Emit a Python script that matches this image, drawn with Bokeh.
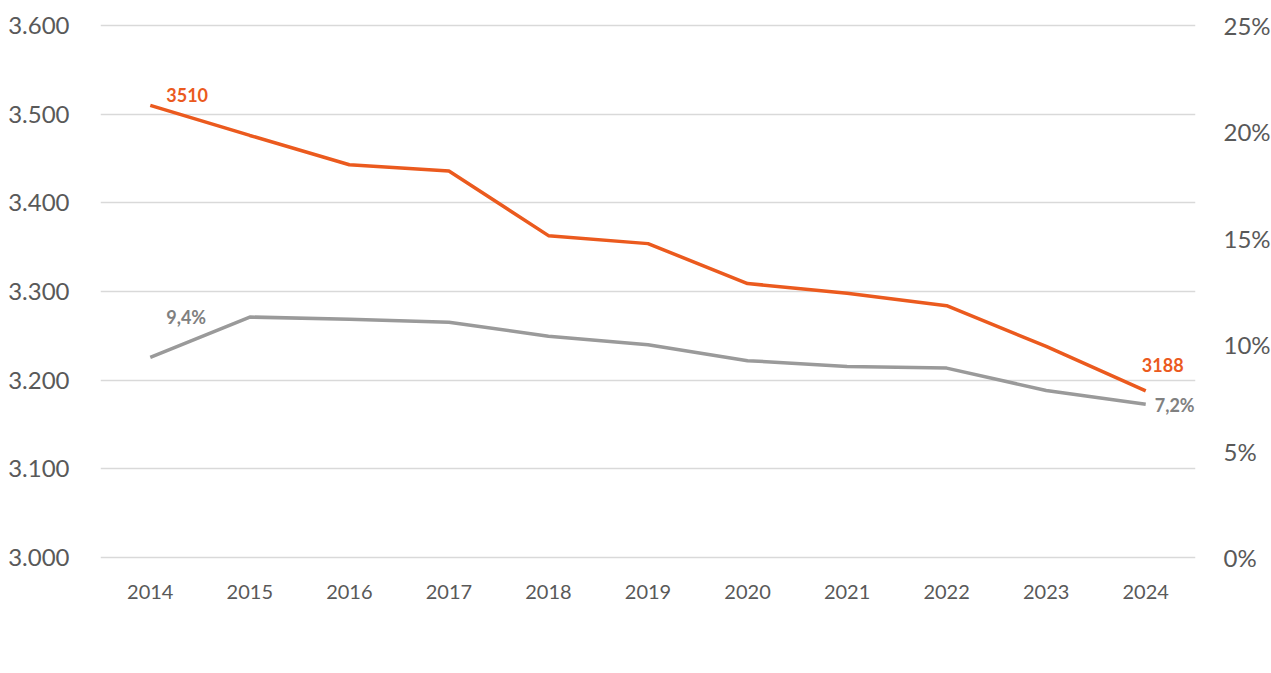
from bokeh.plotting import figure
from bokeh.models import Range1d, LinearAxis, FixedTicker, Legend, LegendItem, ColumnDataSource, CustomJSTickFormatter, Label
from bokeh.embed import file_html
from bokeh.resources import INLINE

years = [2014, 2015, 2016, 2017, 2018, 2019, 2020, 2021, 2022, 2023, 2024]
antal_plo = [3510, 3476, 3443, 3436, 3363, 3354, 3309, 3298, 3284, 3238, 3188]
andel_65 = [9.4, 11.3, 11.2, 11.05, 10.4, 10.0, 9.25, 8.98, 8.9, 7.85, 7.2]
left_ticks = [3000, 3100, 3200, 3300, 3400, 3500, 3600]
right_ticks = [0, 5, 10, 15, 20, 25]

ORANGE = "#EB5A1E"
GRAY = "#9A9A9A"
TXT = "#595959"
FONT = "Lato"

p = figure(frame_width=1095, frame_height=536, output_backend="svg", toolbar_location=None,
           x_range=Range1d(2013.5, 2024.5), y_range=Range1d(2997.74, 3602.26),
           min_border_left=100, min_border_right=76, min_border_top=23, min_border_bottom=90)
p.outline_line_color = None
p.background_fill_color = "white"
p.border_fill_color = "white"
p.extra_y_ranges = {"pct": Range1d(-0.094, 25.094)}

p.xgrid.visible = False
p.ygrid.ticker = FixedTicker(ticks=left_ticks)
p.ygrid.grid_line_color = "#D9D9D9"
p.ygrid.grid_line_width = 1.3

xa = p.xaxis[0]
xa.ticker = FixedTicker(ticks=years)
xa.axis_line_color = None
xa.major_tick_line_color = None
xa.minor_tick_line_color = None
xa.major_label_text_font = FONT
xa.major_label_text_font_size = "20px"
xa.major_label_text_color = TXT
xa.major_label_standoff = 19
xa.axis_label = " "
xa.axis_label_text_font_size = "16px"
xa.axis_label_standoff = 6

ya = p.yaxis[0]
ya.ticker = FixedTicker(ticks=left_ticks)
ya.formatter = CustomJSTickFormatter(code="return (tick/1000).toFixed(3);")
ya.axis_line_color = None
ya.major_tick_line_color = None
ya.minor_tick_line_color = None
ya.major_label_text_font = FONT
ya.major_label_text_font_size = "24px"
ya.major_label_text_color = TXT
ya.major_label_standoff = 25

ra = LinearAxis(y_range_name="pct", ticker=FixedTicker(ticks=right_ticks),
                formatter=CustomJSTickFormatter(code="return tick + '%';"))
ra.axis_line_color = None
ra.major_tick_line_color = None
ra.minor_tick_line_color = None
ra.major_label_text_font = FONT
ra.major_label_text_font_size = "24px"
ra.major_label_text_color = TXT
ra.major_label_standoff = 22
p.add_layout(ra, "right")

src = ColumnDataSource(dict(x=years, a=antal_plo, b=andel_65))
r1 = p.line("x", "a", source=src, line_color=ORANGE, line_width=3.5)
r2 = p.line("x", "b", source=src, line_color=GRAY, line_width=3.5, y_range_name="pct")

lbl = dict(text_font=FONT, text_font_size="18px", text_font_style="bold", text_baseline="middle")
p.add_layout(Label(x=years[0], y=antal_plo[0], text=str(antal_plo[0]), x_offset=16, y_offset=10,
                   text_color=ORANGE, text_align="left", **lbl))
p.add_layout(Label(x=years[-1], y=antal_plo[-1], text=str(antal_plo[-1]), x_offset=17, y_offset=26,
                   text_color=ORANGE, text_align="center", **lbl))
p.add_layout(Label(x=years[0], y=andel_65[0], text=f"{andel_65[0]:.1f}".replace(".", ",") + "%",
                   x_offset=16, y_offset=40, y_range_name="pct", text_color="#808080",
                   text_align="left", **lbl))
p.add_layout(Label(x=years[-1], y=andel_65[-1], text=f"{andel_65[-1]:.1f}".replace(".", ",") + "%",
                   x_offset=9, y_offset=-1, y_range_name="pct", text_color="#808080",
                   text_align="left", **lbl))

legend = Legend(items=[LegendItem(label="Antal PLO-læger", renderers=[r1]),
                       LegendItem(label="Andel læge på 65 år eller derover", renderers=[r2])],
                orientation="horizontal", location="center",
                label_text_font=FONT, label_text_font_size="25px", label_text_color=TXT,
                glyph_width=37, glyph_height=24, label_standoff=2, spacing=170,
                border_line_color=None, background_fill_alpha=0, margin=0, padding=6)
p.add_layout(legend, "below")

open("out.html", "w").write(file_html(p, INLINE))
